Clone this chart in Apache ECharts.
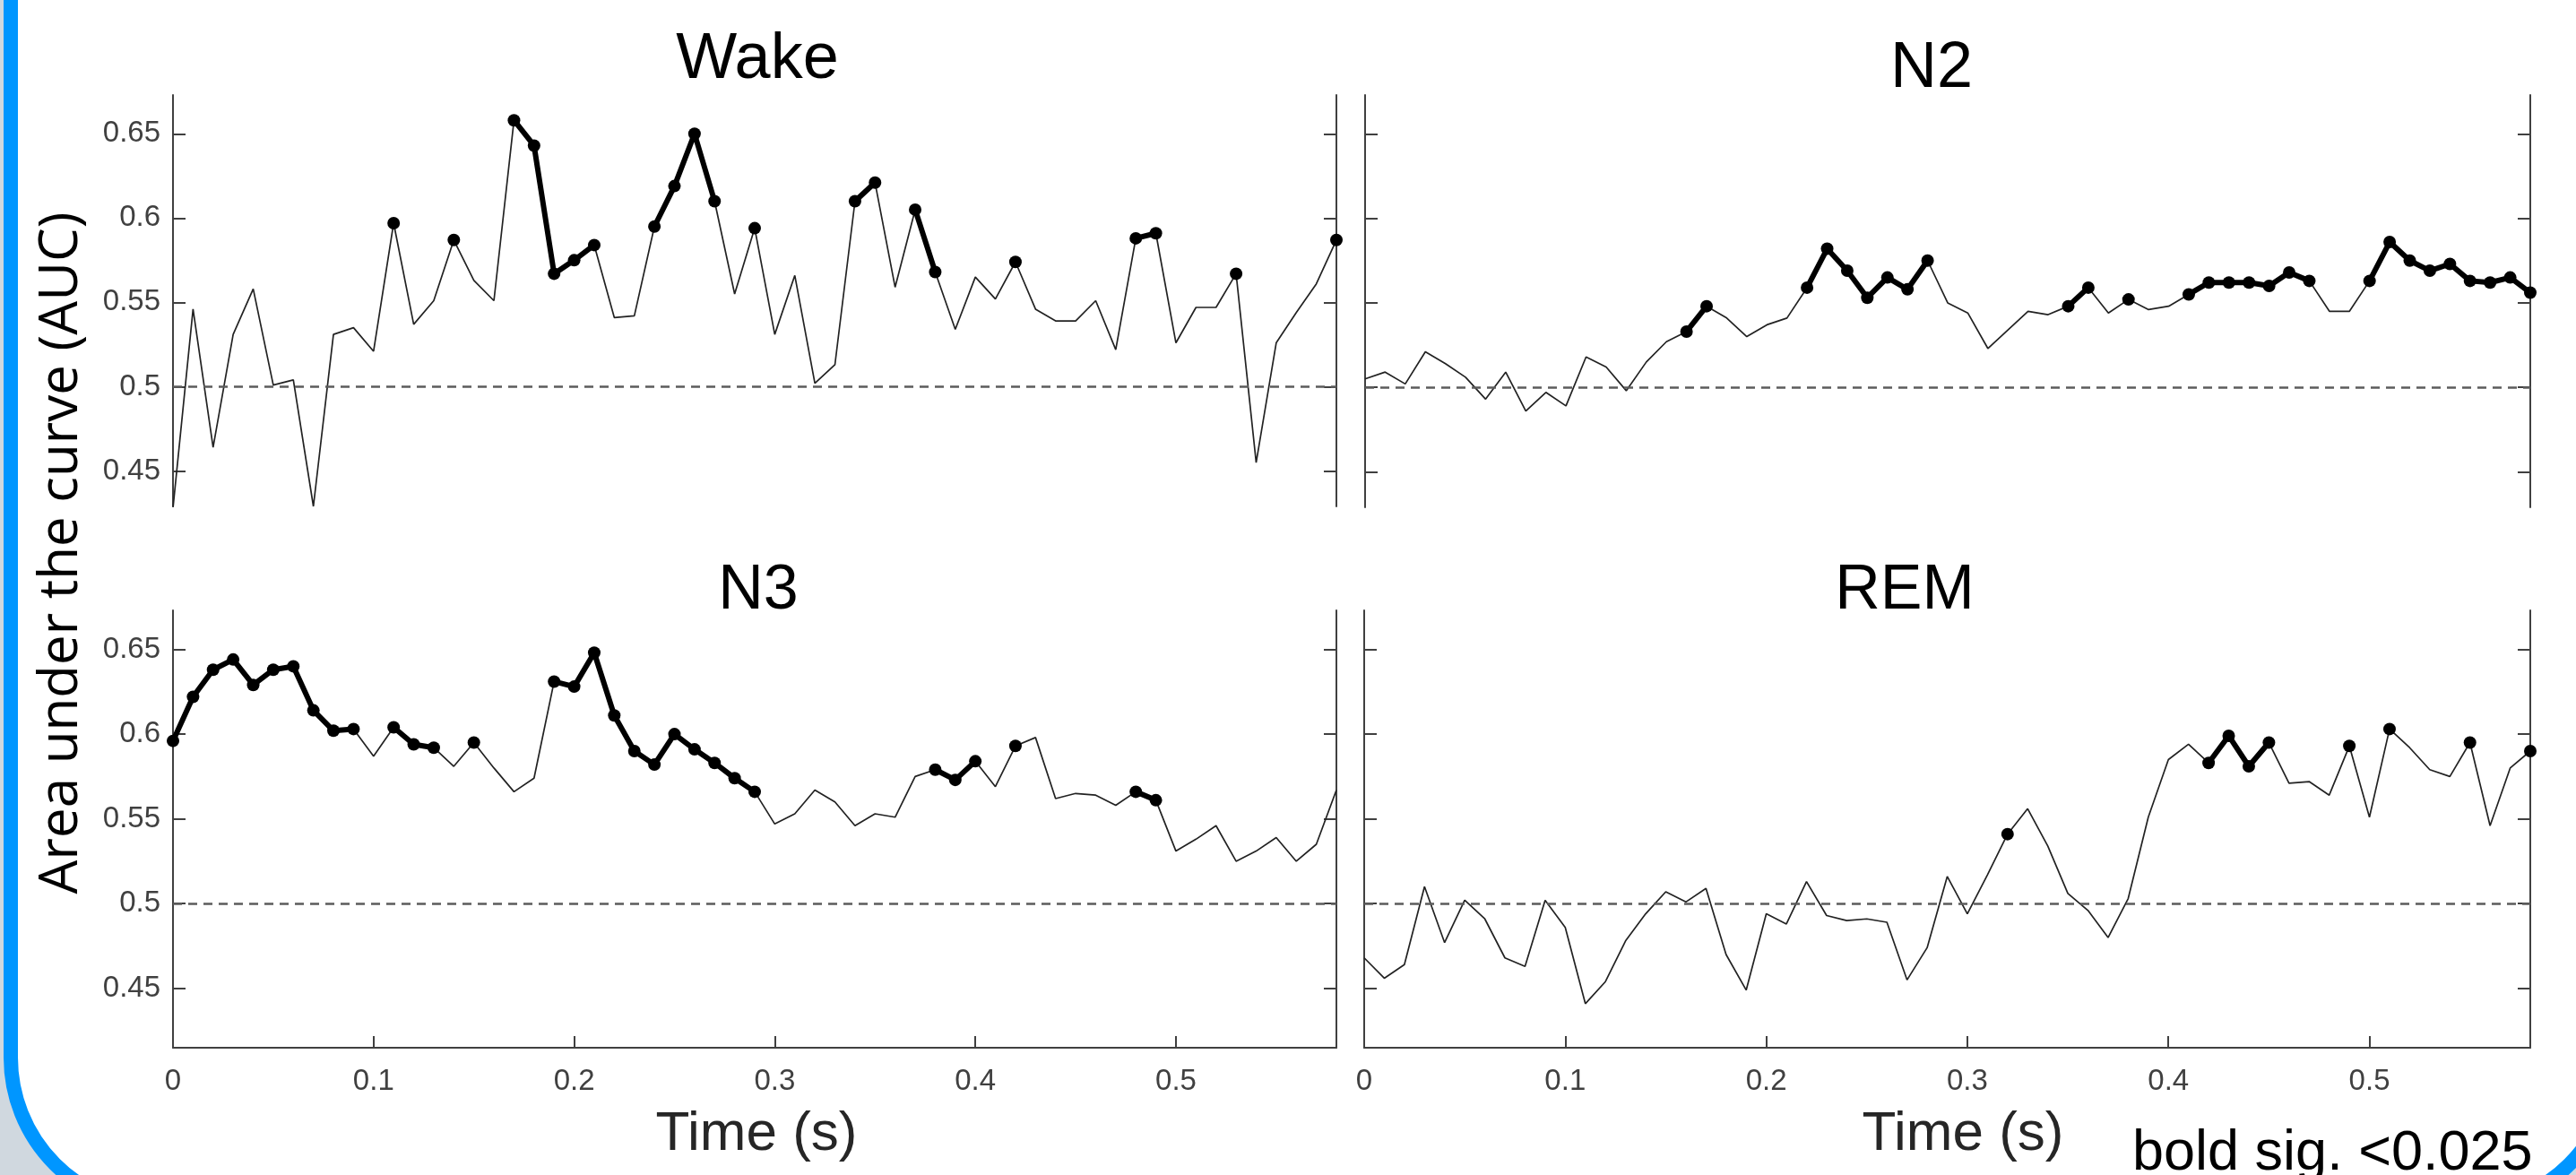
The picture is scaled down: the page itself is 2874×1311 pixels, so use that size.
<!DOCTYPE html>
<html>
<head>
<meta charset="utf-8">
<title>AUC over time by sleep stage</title>
<style>
  html, body { margin: 0; padding: 0; background: #d0d8df; }
  #chart { width: 2874px; height: 1311px; }
</style>
<script src="https://cdn.jsdelivr.net/npm/echarts@6/dist/echarts.min.js"></script>
</head>
<body>
<div id="chart"></div>
<script>
// time points (s)
const times = [0, 0.01, 0.02, 0.03, 0.04, 0.05, 0.06, 0.07, 0.08, 0.09,
  0.1, 0.11, 0.12, 0.13, 0.14, 0.15, 0.16, 0.17, 0.18, 0.19,
  0.2, 0.21, 0.22, 0.23, 0.24, 0.25, 0.26, 0.27, 0.28, 0.29,
  0.3, 0.31, 0.32, 0.33, 0.34, 0.35, 0.36, 0.37, 0.38, 0.39,
  0.4, 0.41, 0.42, 0.43, 0.44, 0.45, 0.46, 0.47, 0.48, 0.49,
  0.5, 0.51, 0.52, 0.53, 0.54, 0.55, 0.56, 0.57, 0.58];

const wakeAuc = [0.428, 0.546, 0.464, 0.531, 0.558, 0.501, 0.504, 0.429, 0.531, 0.535,
  0.521, 0.597, 0.537, 0.551, 0.587, 0.563, 0.551, 0.658, 0.643, 0.567,
  0.575, 0.584, 0.541, 0.542, 0.595, 0.619, 0.650, 0.610, 0.555, 0.594,
  0.531, 0.566, 0.502, 0.513, 0.610, 0.621, 0.559, 0.605, 0.568, 0.534,
  0.565, 0.552, 0.574, 0.546, 0.539, 0.539, 0.551, 0.522, 0.588, 0.591,
  0.526, 0.547, 0.547, 0.567, 0.455, 0.526, 0.544, 0.561, 0.587];
const wakeSig = [0.11, 0.14, 0.17, 0.18, 0.19, 0.2, 0.21, 0.24, 0.25, 0.26, 0.27, 0.29,
  0.34, 0.35, 0.37, 0.38, 0.42, 0.48, 0.49, 0.53, 0.58];

const n2Auc = [0.505, 0.509, 0.502, 0.521, 0.514, 0.506, 0.493, 0.509, 0.486, 0.497,
  0.489, 0.518, 0.512, 0.498, 0.515, 0.527, 0.533, 0.548, 0.541, 0.530,
  0.537, 0.541, 0.559, 0.582, 0.569, 0.553, 0.565, 0.558, 0.575, 0.550,
  0.544, 0.523, 0.534, 0.545, 0.543, 0.548, 0.559, 0.544, 0.552, 0.546,
  0.548, 0.555, 0.562, 0.562, 0.562, 0.560, 0.568, 0.563, 0.545, 0.545,
  0.563, 0.586, 0.575, 0.569, 0.573, 0.563, 0.562, 0.565, 0.556];
const n2Sig = [0.16, 0.17, 0.22, 0.23, 0.24, 0.25, 0.26, 0.27, 0.28, 0.35, 0.36, 0.38,
  0.41, 0.42, 0.43, 0.44, 0.45, 0.46, 0.47, 0.5, 0.51, 0.52, 0.53, 0.54, 0.55, 0.56, 0.57, 0.58];

const n3Auc = [0.596, 0.622, 0.638, 0.644, 0.629, 0.638, 0.640, 0.614, 0.602, 0.603,
  0.587, 0.604, 0.594, 0.592, 0.581, 0.595, 0.580, 0.566, 0.574, 0.631,
  0.628, 0.648, 0.611, 0.590, 0.582, 0.600, 0.591, 0.583, 0.574, 0.566,
  0.547, 0.553, 0.567, 0.560, 0.546, 0.553, 0.551, 0.575, 0.579, 0.573,
  0.584, 0.569, 0.593, 0.598, 0.562, 0.565, 0.564, 0.558, 0.566, 0.561,
  0.531, 0.538, 0.546, 0.525, 0.531, 0.539, 0.525, 0.535, 0.567];
const n3Sig = [0, 0.01, 0.02, 0.03, 0.04, 0.05, 0.06, 0.07, 0.08, 0.09, 0.11, 0.12, 0.13, 0.15,
  0.19, 0.2, 0.21, 0.22, 0.23, 0.24, 0.25, 0.26, 0.27, 0.28, 0.29, 0.38, 0.39, 0.4, 0.42, 0.48, 0.49];

const remAuc = [0.468, 0.456, 0.464, 0.510, 0.477, 0.502, 0.491, 0.468, 0.463, 0.502,
  0.486, 0.441, 0.454, 0.478, 0.494, 0.507, 0.501, 0.509, 0.470, 0.449,
  0.494, 0.488, 0.513, 0.493, 0.490, 0.491, 0.489, 0.455, 0.474, 0.516,
  0.494, 0.517, 0.541, 0.556, 0.534, 0.506, 0.496, 0.480, 0.503, 0.551,
  0.585, 0.594, 0.583, 0.599, 0.581, 0.595, 0.571, 0.572, 0.564, 0.593,
  0.551, 0.603, 0.592, 0.579, 0.575, 0.595, 0.546, 0.580, 0.590];
const remSig = [0.32, 0.42, 0.43, 0.44, 0.45, 0.49, 0.51, 0.55, 0.58];

const yTicks = [0.45, 0.5, 0.55, 0.6, 0.65];
const xTicks = [0, 0.1, 0.2, 0.3, 0.4, 0.5];

const axisColor = '#404040';
const matlabFont = '"Liberation Sans", Arial, sans-serif';

// panel layout: top row is cut off a bit above the x axis
const panels = [
  { name: 'Wake', auc: wakeAuc, sig: wakeSig, grid: { left: 193, top: 106, width: 1298, height: 459 }, yMin: 0.429, yLabels: true, xAxis: false },
  { name: 'N2', auc: n2Auc, sig: n2Sig, grid: { left: 1523, top: 106, width: 1300, height: 460 }, yMin: 0.429, yLabels: false, xAxis: false },
  { name: 'N3', auc: n3Auc, sig: n3Sig, grid: { left: 193, top: 681, width: 1298, height: 488 }, yMin: 0.415, yLabels: true, xAxis: true },
  { name: 'REM', auc: remAuc, sig: remSig, grid: { left: 1522, top: 681, width: 1301, height: 488 }, yMin: 0.415, yLabels: false, xAxis: true }
];

const grid = [], xAxis = [], yAxis = [], series = [];

panels.forEach((p, i) => {
  grid.push(Object.assign({ containLabel: false, outerBoundsMode: 'none' }, p.grid));

  xAxis.push({
    gridIndex: i, type: 'value', min: 0, max: 0.58,
    splitLine: { show: false },
    axisLine: { show: p.xAxis, onZero: false, lineStyle: { color: axisColor, width: 2 } },
    axisTick: { show: p.xAxis, inside: true, length: 13, customValues: xTicks, lineStyle: { color: axisColor, width: 2 } },
    axisLabel: { show: p.xAxis, customValues: xTicks, margin: 21, color: axisColor, fontSize: 33, fontFamily: matlabFont }
  });

  const yBase = {
    gridIndex: i, type: 'value', min: p.yMin, max: 0.673,
    splitLine: { show: false },
    axisLine: { show: true, onZero: false, lineStyle: { color: axisColor, width: 2 } },
    axisTick: { show: true, inside: true, length: 14, customValues: yTicks, lineStyle: { color: axisColor, width: 2 } }
  };
  yAxis.push(Object.assign({}, yBase, {
    position: 'left',
    axisLabel: { show: p.yLabels, customValues: yTicks, margin: 14, color: axisColor, fontSize: 33, fontFamily: matlabFont }
  }));
  yAxis.push(Object.assign({}, yBase, {
    position: 'right',
    axisLabel: { show: false }
  }));

  series.push({
    name: p.name, type: 'line', xAxisIndex: i, yAxisIndex: 2 * i,
    data: times.map((t, k) => [t, p.auc[k]]),
    symbol: 'none', silent: true,
    lineStyle: { color: '#222', width: 1.7 },
    markLine: {
      silent: true, symbol: 'none', label: { show: false },
      lineStyle: { type: [10, 7], color: '#5c5c5c', width: 2.5 },
      data: [{ yAxis: 0.5 }]
    },
    z: 2
  });

  series.push({
    name: p.name + ' sig', type: 'line', xAxisIndex: i, yAxisIndex: 2 * i,
    data: times.map((t, k) => [t, p.sig.includes(t) ? p.auc[k] : null]),
    connectNulls: false,
    symbol: 'circle', symbolSize: 14, showSymbol: true, showAllSymbol: true,
    itemStyle: { color: '#000' },
    lineStyle: { color: '#000', width: 6 },
    silent: true,
    z: 3
  });
});

const textStyle = (text, font, fill, align) => ({
  text: text, font: font, fill: fill,
  textAlign: align, align: align,
  textVerticalAlign: 'middle', verticalAlign: 'middle'
});

const graphic = [
  {
    type: 'rect', z: -10, silent: true,
    shape: { x: 12, y: -600, width: 2904, height: 1948, r: 168 },
    style: { fill: '#ffffff', stroke: '#0096ff', lineWidth: 16 }
  },
  { type: 'text', z: 10, x: 845, y: 67, style: textStyle('Wake', '72px ' + matlabFont, '#000', 'center') },
  { type: 'text', z: 10, x: 2155, y: 77, style: textStyle('N2', '72px ' + matlabFont, '#000', 'center') },
  { type: 'text', z: 10, x: 846, y: 660, style: textStyle('N3', '70px ' + matlabFont, '#000', 'center') },
  { type: 'text', z: 10, x: 2125, y: 660, style: textStyle('REM', '70px ' + matlabFont, '#000', 'center') },
  { type: 'text', z: 10, x: 844, y: 1266, style: textStyle('Time (s)', '62px ' + matlabFont, '#262626', 'center') },
  { type: 'text', z: 10, x: 2190, y: 1266, style: textStyle('Time (s)', '62px ' + matlabFont, '#262626', 'center') },
  { type: 'text', z: 10, x: 69, y: 617, rotation: Math.PI / 2,
    style: textStyle('Area under the curve (AUC)', '60px "Open Sans", "Noto Sans", sans-serif', '#000', 'center') },
  { type: 'text', z: 10, x: 2379, y: 1288, style: textStyle('bold sig. <0.025', '63px ' + matlabFont, '#000', 'left') }
];

const chart = echarts.init(document.getElementById('chart'), null, { renderer: 'canvas' });
chart.setOption({
  animation: false,
  backgroundColor: '#d0d8df',
  grid: grid,
  xAxis: xAxis,
  yAxis: yAxis,
  series: series,
  graphic: graphic
});
</script>
</body>
</html>
